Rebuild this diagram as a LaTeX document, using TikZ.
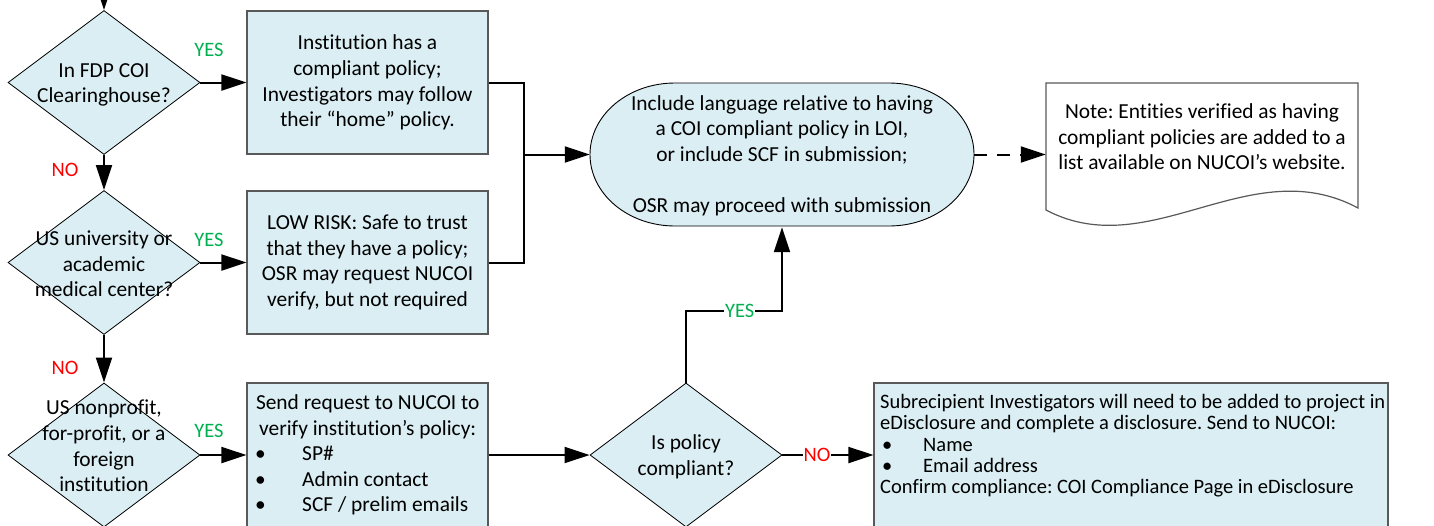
\documentclass[tikz,border=0pt]{standalone}
\usepackage{fontspec}
\setmainfont{Carlito}[Ligatures=NoCommon]
\usetikzlibrary{arrows.meta,shapes.geometric}
\definecolor{fillb}{HTML}{DAEEF3}
\definecolor{edge}{HTML}{595959}
\definecolor{yesg}{HTML}{00B050}
\definecolor{nored}{HTML}{FF0000}
\frenchspacing
\begin{document}
\begin{tikzpicture}[x=1pt,y=-1pt,
  every node/.style={font=\fontsize{21.4}{25.6}\selectfont},
  dec/.style={diamond, draw=black, line width=0.8pt, fill=fillb, minimum width=192pt, minimum height=144pt, inner sep=0pt},
  dtext/.style={align=center, inner sep=0pt},
  procbox/.style={rectangle, draw=edge, line width=1.2pt, fill=fillb, minimum width=241pt, minimum height=143pt, inner sep=0pt, align=center},
  arr/.style={line width=2pt, -{Triangle[length=25pt,width=16pt]}},
  dasharr/.style={line width=2pt, dash pattern=on 13pt off 10pt, -{Triangle[length=25pt,width=16pt]}},
  yeslbl/.style={text=yesg, font=\fontsize{20.5}{24}\selectfont, inner sep=1pt},
  nolbl/.style={text=nored, font=\fontsize{20.5}{24}\selectfont, inner sep=1pt},
  onlinelbl/.style={fill=white, inner sep=1pt}
]
\useasboundingbox (0,0) rectangle (1434,525);

% decisions
\node[dec] (d1) at (104,82.5) {};
\node[dtext] (d1t) at (104,85) {In FDP COI\\Clearinghouse?};
\node[dec] (d2) at (104,262.5) {};
\node[dtext] (d2t) at (104,264) {US university or\\academic\\medical center?};
\node[dec] (d3) at (104,455) {};
\node[dtext] (d3t) at (104,446) {US nonprofit,\\for-profit, or a\\foreign\\institution};
\node[dec] (d4) at (686,455) {};
\node[dtext] (d4t) at (686,457) {Is policy\\compliant?};

% process boxes
\node[procbox] (b1) at (367.5,82.5) {Institution has a\\compliant policy;\\Investigators may follow\\their “home” policy.};
\node[procbox] (b2) at (367.5,262.5) {LOW RISK: Safe to trust\\that they have a policy;\\OSR may request NUCOI\\verify, but not required};
\node[procbox, minimum height=144pt] (b3) at (367.5,455) {};
\node[anchor=base west, inner sep=0pt] (b3t) at (255,409.5) {\parbox[t]{225pt}{\centering Send request to NUCOI to\\verify institution’s policy:\par\raggedright
\makebox[47pt][l]{•}SP\#\\
\makebox[47pt][l]{•}Admin contact\\
\makebox[47pt][l]{•}SCF / prelim emails}};
\node[procbox, minimum width=514pt, minimum height=144pt] (b5) at (1131,455) {};
\node[anchor=base west, inner sep=0pt] (b5t) at (880,408.5) {\parbox[t]{520pt}{\fontsize{20.5}{21.3}\selectfont\raggedright
Subrecipient Investigators will need to be added to project in\\
eDisclosure and complete a disclosure. Send to NUCOI:\\
\makebox[43pt][l]{\hspace{2pt}•}Name\\
\makebox[43pt][l]{\hspace{2pt}•}Email address\\
Confirm compliance: COI Compliance Page in eDisclosure}};

% terminator
\path[draw=black, line width=0.9pt, fill=fillb] (675,83) -- (889,83)
  arc[start angle=-90, end angle=90, x radius=85, y radius=71.5] -- (675,226)
  arc[start angle=90, end angle=270, x radius=85, y radius=71.5] -- cycle;
\node[align=center, minimum width=384pt, minimum height=143pt, inner sep=0pt] (term) at (782,155.5)
  {Include language relative to having\\a COI compliant policy in LOI,\\or include SCF in submission;\\[25.6pt]OSR may proceed with submission};

% note (document shape)
\draw[draw=edge, line width=1.2pt, fill=white] (1046,83) -- (1358,83) -- (1358,208)
  .. controls (1250,150) and (1150,265) .. (1046,210) -- cycle;
\node[minimum width=312pt, minimum height=143pt, inner sep=0pt] (note) at (1202,154.5) {};
\node[align=center, inner sep=0pt] (notet) at (1202,137) {Note: Entities verified as having\\compliant policies are added to a\\list available on NUCOI’s website.};

% connectors
\coordinate (top) at (104,-40);
\draw[arr] (top) -- (d1.north);
\draw[arr] (d1.south) -- (d2.north);
\draw[arr] (d2.south) -- (d3.north);
\node[nolbl] (no1) at (65,170) {NO};
\node[nolbl] (no2) at (65,368) {NO};
\draw[arr] (d1.east) -- (b1.west);
\draw[arr] (d2.east) -- (b2.west);
\draw[arr] (d3.east) -- (b3.west);
\node[yeslbl] (y1) at (209,50) {YES};
\node[yeslbl] (y2) at (209,240) {YES};
\node[yeslbl] (y3) at (209,431) {YES};

\coordinate (j) at (524,154.5);
\draw[line width=2pt] (b1.east) -| (j) |- (b2.east);
\draw[arr] (j) -- (term.west |- j);
\draw[arr] (b3.east) -- (d4.west);
\coordinate (yc) at (782,311);
\draw[arr] (d4.north) |- node[pos=0.78, yeslbl, onlinelbl] (y4) {YES} (yc) -- (term.south);
\draw[arr] (d4.east) -- node[pos=0.38, nolbl, onlinelbl] (no4) {NO} (b5.west);
\draw[dasharr] (term.east |- note.west) -- (note.west);
\end{tikzpicture}
\end{document}
